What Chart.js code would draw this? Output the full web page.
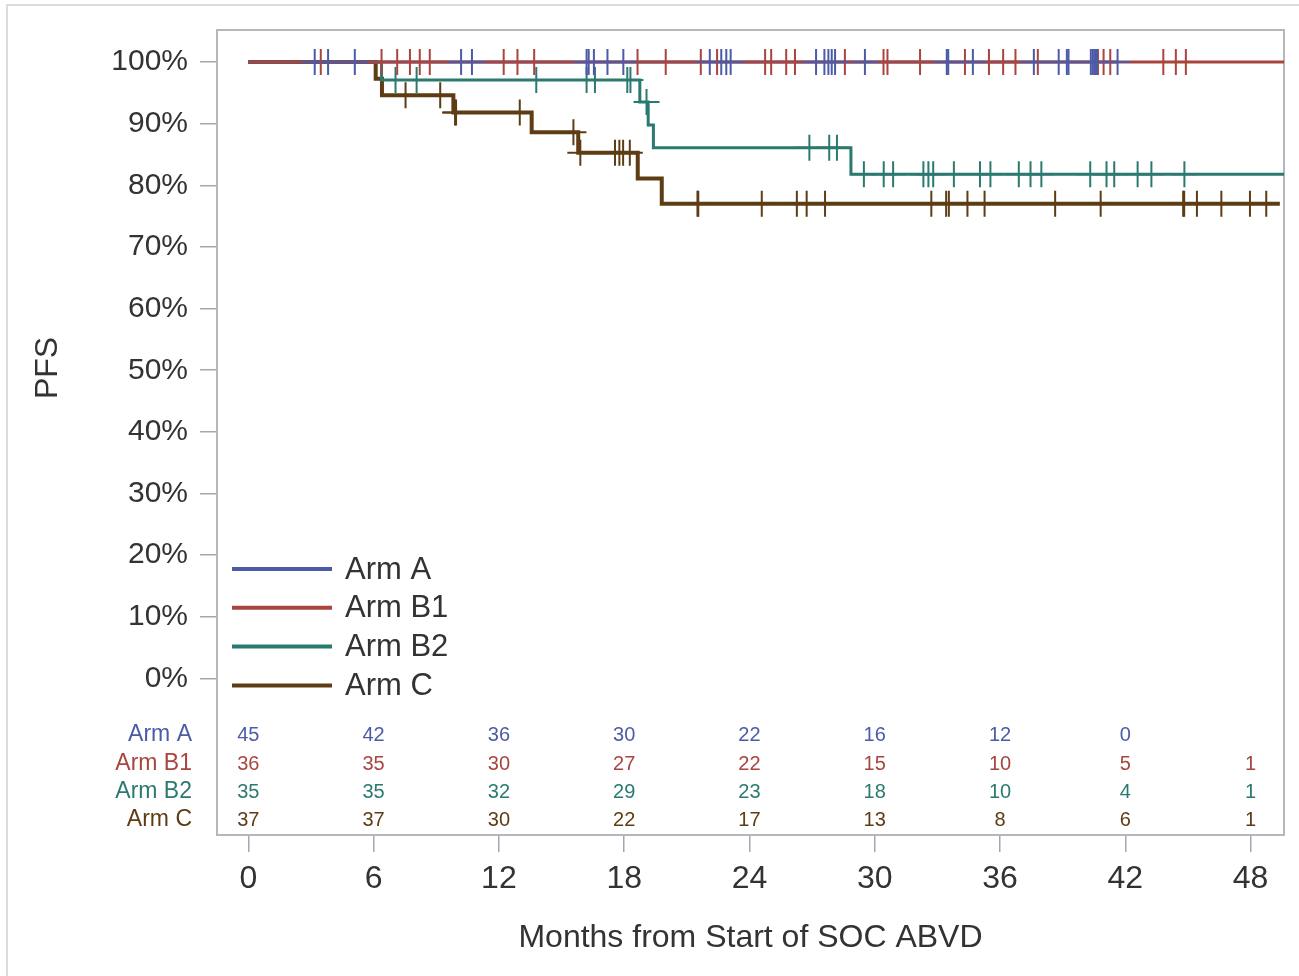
<!DOCTYPE html>
<html>
<head>
<meta charset="utf-8">
<script src="https://cdn.jsdelivr.net/npm/chart.js@4.4.1/dist/chart.umd.min.js"></script>
<style>
body { margin: 0; background: #fff; }
#wrap { width: 1299px; height: 976px; }
</style>
</head>
<body>
<div id="wrap"><canvas id="chart" width="1299" height="976"></canvas></div>
<script>
const armNames = ["Arm A", "Arm B1", "Arm B2", "Arm C"];
const colors = ["#4c5ba6", "#a9453f", "#2b7a70", "#5e3c14"];

// step curves: months, PFS %
const armATimes = [0, 41.63];
const armASurv = [100, 100];
const armB1Times = [0, 49.6];
const armB1Surv = [100, 100];
const armB2Times = [0, 6.38, 18.75, 19.15, 19.4, 28.86, 49.6];
const armB2Surv = [100, 97.1, 93.5, 89.8, 86.1, 81.8, 81.8];
const armCTimes = [0, 6.1, 6.4, 9.82, 13.57, 15.8, 18.65, 19.8, 49.4];
const armCSurv = [100, 97.3, 94.6, 91.8, 88.6, 85.3, 81.1, 77.0, 77.0];

// censored observations (months)
const armACens = [3.18, 3.82, 5.10, 10.19, 10.71, 16.2, 16.3, 16.55, 17.2, 17.96, 22.1, 22.65, 22.89, 23.1,
  27.19, 27.59, 27.78, 27.94, 28.1, 29.53, 33.45, 33.52, 34.7, 37.62, 38.81, 39.2, 39.28,
  40.35, 40.45, 40.55, 40.64, 41.63];
const armB1Cens = [3.47, 6.38, 7.13, 7.74, 8.21, 8.69, 12.23, 12.89, 13.69, 18.64, 19.99, 21.67, 22.45,
  24.75, 25.04, 25.76, 26.18, 28.57, 30.42, 30.61, 32.17, 34.32, 35.47, 36.15, 36.74, 37.81,
  40.69, 40.96, 41.28, 43.82, 44.42, 44.9];
const armB2Cens = [7.05, 8.06, 13.79, 16.2, 16.6, 18.15, 18.3, 19.07, 26.87, 27.82, 28.19, 29.48, 30.43,
  30.88, 32.33, 32.57, 32.8, 33.79, 35.04, 35.54, 36.9, 37.46, 37.98, 40.32, 41.1, 41.47,
  42.59, 43.25, 44.83];
const armCCens = [7.53, 9.19, 9.9, 9.95, 13.0, 15.57, 15.9, 17.56, 17.77, 17.95, 18.27, 21.51, 21.55,
  24.59, 26.27, 26.74, 27.62, 32.71, 33.42, 33.55, 34.44, 35.26, 38.64, 40.82, 44.77, 44.82,
  45.43, 46.6, 47.97, 48.75];

// numbers at risk
const riskTimes = [0, 6, 12, 18, 24, 30, 36, 42, 48];
const riskA = [45, 42, 36, 30, 22, 16, 12, 0, null];
const riskB1 = [36, 35, 30, 27, 22, 15, 10, 5, 1];
const riskB2 = [35, 35, 32, 29, 23, 18, 10, 4, 1];
const riskC = [37, 37, 30, 22, 17, 13, 8, 6, 1];

const xTicks = [0, 6, 12, 18, 24, 30, 36, 42, 48];
const yTicks = [0, 10, 20, 30, 40, 50, 60, 70, 80, 90, 100];

const curves = [
  [armATimes, armASurv, armACens, riskA],
  [armB1Times, armB1Surv, armB1Cens, riskB1],
  [armB2Times, armB2Surv, armB2Cens, riskB2],
  [armCTimes, armCSurv, armCCens, riskC]
];
const lineOrder = [11, 10, 12, 13];

function levelAt(times, surv, t){
  let v = surv[0];
  for(let i = 0; i < times.length; i++){
    if(times[i] <= t) v = surv[i];
  }
  return v;
}

let dataSets = [];
for(let i = 0; i < curves.length; i++){
  let c = curves[i];
  dataSets.push({
    label: armNames[i],
    data: c[0].map((t, j) => ({x: t, y: c[1][j]})),
    showLine: true,
    stepped: true,
    borderColor: colors[i],
    backgroundColor: colors[i],
    borderWidth: i == 3 ? 4 : 3,
    pointRadius: 0,
    fill: false,
    order: lineOrder[i]
  });
}
for(let i = 0; i < curves.length; i++){
  let c = curves[i];
  dataSets.push({
    label: armNames[i] + " censored",
    data: c[2].map(t => ({x: t, y: levelAt(c[0], c[1], t)})),
    showLine: false,
    pointStyle: "cross",
    pointRadius: 13,
    borderColor: colors[i],
    backgroundColor: colors[i],
    borderWidth: 2,
    order: i
  });
}

const FONT = "'Liberation Sans', Arial, sans-serif";

const bgPlugin = {
  id: "bg",
  beforeDraw(chart){
    let ctx = chart.ctx;
    ctx.save();
    ctx.strokeStyle = "#dcdcdc";
    ctx.lineWidth = 2;
    ctx.beginPath();
    ctx.moveTo(7, 976);
    ctx.lineTo(7, 5);
    ctx.lineTo(1299, 5);
    ctx.stroke();
    // y axis title
    ctx.translate(48, 368);
    ctx.rotate(-Math.PI / 2);
    ctx.fillStyle = "#333";
    ctx.font = "32px " + FONT;
    ctx.textAlign = "center";
    ctx.textBaseline = "middle";
    ctx.fillText("PFS", 0, 0);
    ctx.restore();
  },
  beforeDatasetsDraw(chart){
    let a = chart.chartArea, ctx = chart.ctx;
    ctx.save();
    ctx.strokeStyle = "#b4b8bc";
    ctx.lineWidth = 2;
    ctx.strokeRect(a.left, a.top, a.right - a.left, a.bottom - a.top);
    ctx.restore();
  }
};

const tablePlugin = {
  id: "table",
  afterDraw(chart){
    let ctx = chart.ctx, xs = chart.scales.x, a = chart.chartArea;
    let rowY = [a.bottom - 100, a.bottom - 71, a.bottom - 43, a.bottom - 15];
    ctx.save();
    ctx.textBaseline = "middle";
    for(let i = 0; i < curves.length; i++){
      let risk = curves[i][3];
      ctx.fillStyle = colors[i];
      ctx.font = "23px " + FONT;
      ctx.textAlign = "right";
      ctx.fillText(armNames[i], 192, rowY[i]);
      ctx.font = "20px " + FONT;
      ctx.textAlign = "center";
      for(let j = 0; j < riskTimes.length; j++){
        if(risk[j] === null) continue;
        ctx.fillText(String(risk[j]), xs.getPixelForValue(riskTimes[j]), rowY[i]);
      }
    }
    // legend
    let lx = a.left + 15, ly = a.top + 539;
    ctx.font = "31px " + FONT;
    ctx.textAlign = "left";
    for(let i = 0; i < armNames.length; i++){
      let y = ly + i * 38.8;
      ctx.strokeStyle = colors[i];
      ctx.lineWidth = 4;
      ctx.beginPath();
      ctx.moveTo(lx, y);
      ctx.lineTo(lx + 100, y);
      ctx.stroke();
      ctx.fillStyle = "#333";
      ctx.fillText(armNames[i], lx + 113, y + 1);
    }
    ctx.restore();
  }
};

let ctx = document.getElementById("chart").getContext("2d");
let chart = new Chart(ctx, {
  type: "scatter",
  data: { datasets: dataSets },
  options: {
    responsive: false,
    animation: false,
    events: [],
    layout: { padding: { left: 0, top: 28, right: 12, bottom: 0 } },
    plugins: {
      legend: { display: false },
      tooltip: { enabled: false }
    },
    scales: {
      x: {
        type: "linear",
        min: -1.5,
        max: 49.6,
        afterBuildTicks: s => { s.ticks = xTicks.map(v => ({value: v})); },
        afterFit: s => { s.height = 141; },
        grid: { drawOnChartArea: false, tickLength: 17, color: "#a4a8ac", lineWidth: 1.5 },
        border: { color: "#b4b8bc", width: 2 },
        ticks: { font: { family: FONT, size: 32 }, color: "#333", padding: 8, maxRotation: 0 },
        title: { display: true, text: "Months from Start of SOC ABVD", font: { family: FONT, size: 32 }, color: "#333", padding: { bottom: 19 } }
      },
      y: {
        type: "linear",
        min: -25.4,
        max: 105.2,
        afterBuildTicks: s => { s.ticks = yTicks.map(v => ({value: v})); },
        afterFit: s => { s.width = 217; },
        grid: { drawOnChartArea: false, tickLength: 17, color: "#a4a8ac", lineWidth: 1.5 },
        border: { color: "#b4b8bc", width: 2 },
        ticks: { font: { family: FONT, size: 30 }, color: "#333", padding: 12, callback: v => v + "%" }
      }
    }
  },
  plugins: [bgPlugin, tablePlugin]
});
</script>
</body>
</html>
